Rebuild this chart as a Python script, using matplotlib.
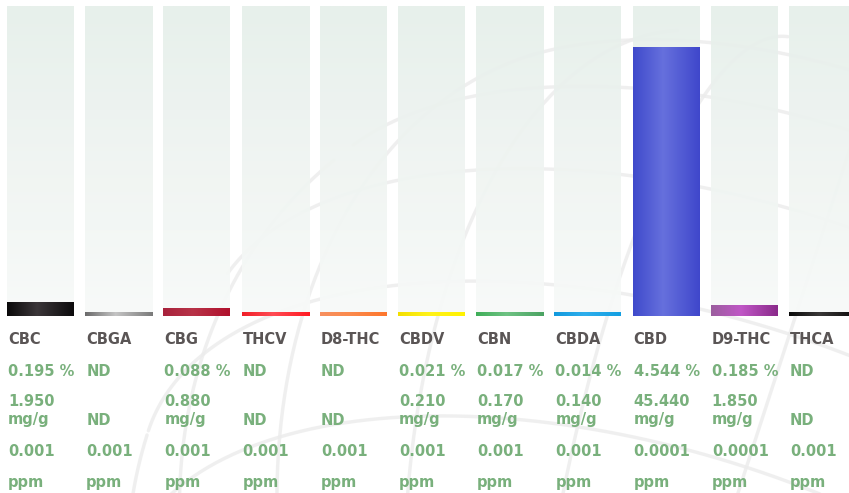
import numpy as np
import matplotlib
matplotlib.use('Agg')
import matplotlib.pyplot as plt
from matplotlib.colors import LinearSegmentedColormap
from matplotlib.transforms import blended_transform_factory

# cannabinoid panel
names = ['CBC', 'CBGA', 'CBG', 'THCV', 'D8-THC', 'CBDV', 'CBN', 'CBDA', 'CBD', 'D9-THC', 'THCA']
pct_text = ['0.195 %', 'ND', '0.088 %', 'ND', 'ND', '0.021 %', '0.017 %', '0.014 %',
            '4.544 %', '0.185 %', 'ND']
mg_text = ['1.950', 'ND', '0.880', 'ND', 'ND', '0.210', '0.170', '0.140', '45.440', '1.850', 'ND']
loq_text = ['0.001', '0.001', '0.001', '0.001', '0.001', '0.001', '0.001', '0.001',
            '0.0001', '0.0001', '0.001']
# bar levels in % as drawn (tiny values get a visible stub)
bar_levels = [0.236, 0.068, 0.14, 0.068, 0.068, 0.068, 0.068, 0.068, 4.544, 0.186, 0.068]
scale_max = 5.23

# horizontal gradient for each bar: left, middle, right
bar_colors = [
    ('#0a090a', '#3b3639', '#0c0b0c'),
    ('#6a6a6a', '#c4c4c4', '#7a7a7a'),
    ('#a8223c', '#b83348', '#b0102c'),
    ('#f01e28', '#ff4c54', '#ff1a22'),
    ('#f7905f', '#fb8a4c', '#fe762c'),
    ('#f3df00', '#fff21a', '#fff200'),
    ('#3fae58', '#6ec283', '#4aa262'),
    ('#1199dd', '#2eaeec', '#139fe2'),
    ('#3f4acb', '#6670dd', '#3f47cb'),
    ('#9b5e9e', '#c057c6', '#8a2a8a'),
    ('#0a0a0a', '#3a3838', '#0c0c0c'),
]

W, H = 849, 493
pitch = 78.2
first_center = 40.5
col_w = 67 / pitch

fig = plt.figure(figsize=(W / 100, H / 100), dpi=100)
fig.patch.set_facecolor('white')

ax = fig.add_axes([0, (H - 316) / H, 1, 310 / H])
ax.patch.set_visible(False)
ax.set_axis_off()

x = np.arange(len(names))

# faint globe watermark (decoration, drawn in pixel space, under the columns)
def rot(pts, ax_name, deg):
    a = np.radians(deg)
    c, s = np.cos(a), np.sin(a)
    xx, yy, zz = pts
    if ax_name == 'x':
        return np.array([xx, c * yy - s * zz, s * yy + c * zz])
    if ax_name == 'y':
        return np.array([c * xx + s * zz, yy, -s * xx + c * zz])
    return np.array([c * xx - s * yy, s * xx + c * yy, zz])

gx, gy, gr = 700, 610, 580
def draw_curve(lat, lon):
    lat, lon = np.radians(lat), np.radians(lon)
    p = np.array([np.cos(lat) * np.cos(lon), np.cos(lat) * np.sin(lon), np.sin(lat)])
    p = rot(p, 'y', -30)
    p = rot(p, 'x', -18)
    px = gx + gr * p[1]
    py = gy - gr * p[2]
    px = np.where(p[0] > 0, px, np.nan)
    ax.plot(px / 100, (H - py) / 100, color='#ececec', lw=2.5, alpha=0.8,
            transform=fig.dpi_scale_trans, clip_on=False, zorder=0.5,
            solid_capstyle='round')

t = np.linspace(-180, 180, 721)
for la in range(-75, 90, 15):
    draw_curve(np.full_like(t, la), t)
t = np.linspace(-90, 90, 361)
for lo in range(0, 360, 18):
    draw_curve(t, np.full_like(t, lo))

# background columns with vertical gradient
bg_cmap = LinearSegmentedColormap.from_list('bg', ['#f8faf9', '#e6efea'])
bg = ax.bar(x, [scale_max] * len(names), width=col_w, color='none', zorder=1)
vgrad = np.linspace(0, 1, 256).reshape(-1, 1)
for rect in bg:
    im = ax.imshow(vgrad, cmap=bg_cmap, aspect='auto', origin='lower',
                   extent=(rect.get_x(), rect.get_x() + rect.get_width(), 0, rect.get_height()),
                   zorder=1, alpha=0.93)
    im.set_clip_path(rect)

# value bars with horizontal gradient
bars = ax.bar(x, bar_levels, width=col_w, color='none', zorder=2)
hgrad = np.linspace(0, 1, 256).reshape(1, -1)
for rect, cols in zip(bars, bar_colors):
    cmap = LinearSegmentedColormap.from_list('b', [(0, cols[0]), (0.45, cols[1]), (1, cols[2])])
    im = ax.imshow(hgrad, cmap=cmap, aspect='auto',
                   extent=(rect.get_x(), rect.get_x() + rect.get_width(), 0, rect.get_height()),
                   zorder=2)
    im.set_clip_path(rect)

ax.set_xlim(-first_center / pitch, (W - first_center) / pitch)
ax.set_ylim(0, scale_max)

# labels under each column
trans = blended_transform_factory(ax.transData, fig.transFigure)
name_color = '#5a5555'
val_color = '#79b07c'
fs = 10.5

def fy(px):
    return (H - px) / H

def label(tx, ypx, s, color):
    ax.text(tx, fy(ypx), s, transform=trans, color=color, fontsize=fs,
            fontweight='bold', va='baseline', ha='left', zorder=3)

for i in x:
    tx = i - col_w / 2 + 1 / pitch
    label(tx, 344, names[i], name_color)
    label(tx, 376, pct_text[i], val_color)
    if mg_text[i] == 'ND':
        label(tx, 425, 'ND', val_color)
    else:
        label(tx, 406, mg_text[i], val_color)
        label(tx, 424, 'mg/g', val_color)
    label(tx, 456.5, loq_text[i], val_color)
    label(tx, 487, 'ppm', val_color)

fig.savefig('out.png', dpi=100, facecolor='white')
plt.close(fig)
